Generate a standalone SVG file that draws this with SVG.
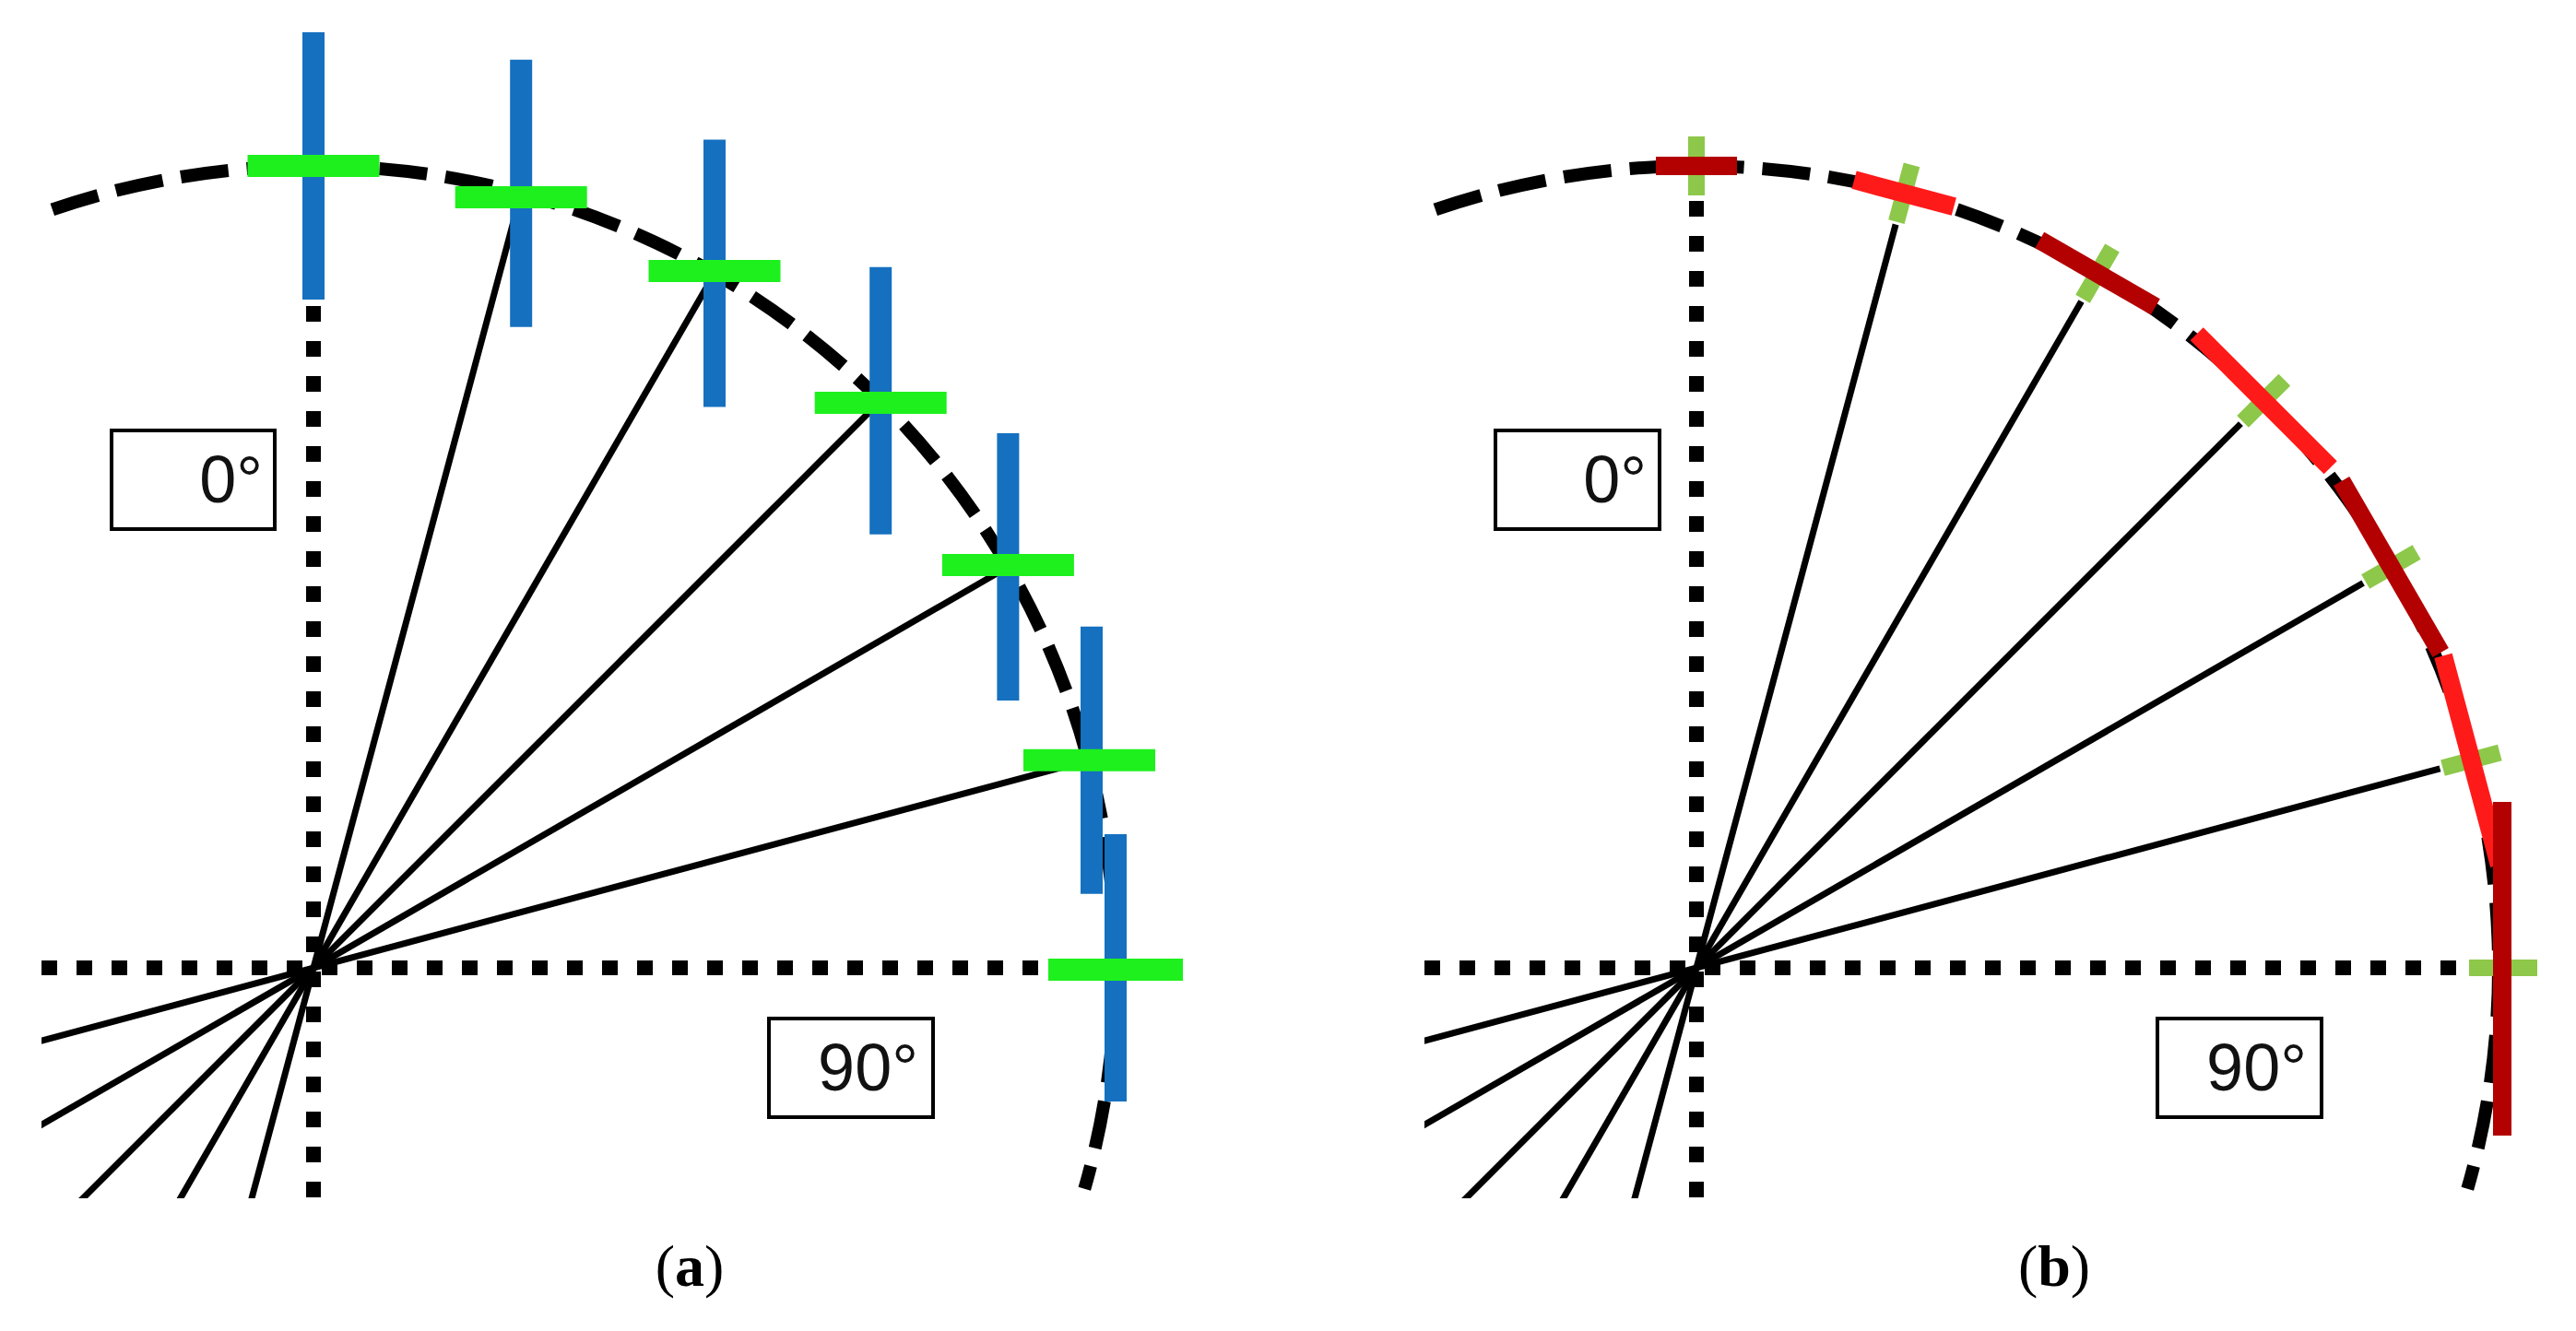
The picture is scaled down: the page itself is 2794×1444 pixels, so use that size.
<svg xmlns="http://www.w3.org/2000/svg" width="2794" height="1444" viewBox="0 0 2794 1444">
<style>
.arc{fill:none;stroke:#000;stroke-width:14;stroke-dasharray:52 20}
.dot{stroke:#000;stroke-width:16;stroke-dasharray:17 21;fill:none}
.spoke{stroke:#000;stroke-width:7;fill:none}
.blue{stroke:#1570c0;stroke-width:24}
.grn{stroke:#1ef01e;stroke-width:24}
.lg{stroke:#8dc84a;stroke-width:18}
.dr{stroke:#b30000;stroke-width:20}
.br{stroke:#ff1a1a;stroke-width:20}
.box{fill:#fff;stroke:#000;stroke-width:4}
.lbl{font-family:"Liberation Sans",Arial,sans-serif;font-size:72px;fill:#111;text-anchor:end}
.cap{font-family:"Liberation Serif","Times New Roman",serif;font-size:64px;fill:#000;text-anchor:middle}
</style>
<defs>
<clipPath id="ca"><rect x="45" y="0" width="1400" height="1300"/></clipPath>
<clipPath id="cb"><rect x="1545" y="0" width="1249" height="1300"/></clipPath>
</defs>
<g id="panel-a">
<path class="arc" d="M 56.8 227.4 A 870 870 0 0 1 1176.3 1289.8"/>
<g id="connectors-a" clip-path="url(#ca)">
<line class="spoke" x1="565.2" y1="209.7" x2="184.7" y2="1629.6"/>
<line class="spoke" x1="775" y1="296.6" x2="40" y2="1569.6"/>
<line class="spoke" x1="955.2" y1="434.8" x2="-84.3" y2="1474.3"/>
<line class="spoke" x1="1093.4" y1="615" x2="-179.6" y2="1350"/>
<line class="spoke" x1="1180.4" y1="824.8" x2="-239.5" y2="1205.3"/>
<line class="dot" x1="340" y1="180" x2="340" y2="1300"/>
<line class="dot" x1="45" y1="1050" x2="1210" y2="1050"/>
</g>
<g id="bars-a">
<line class="blue" x1="340" y1="35" x2="340" y2="325"/>
<line class="blue" x1="565.2" y1="64.7" x2="565.2" y2="354.7"/>
<line class="blue" x1="775" y1="151.6" x2="775" y2="441.6"/>
<line class="blue" x1="955.2" y1="289.8" x2="955.2" y2="579.8"/>
<line class="blue" x1="1093.4" y1="470" x2="1093.4" y2="760"/>
<line class="blue" x1="1184" y1="679.8" x2="1184" y2="969.8"/>
<line class="blue" x1="1210" y1="905" x2="1210" y2="1195"/>
<line class="grn" x1="268.5" y1="180" x2="411.5" y2="180"/>
<line class="grn" x1="493.7" y1="214" x2="636.7" y2="214"/>
<line class="grn" x1="703.5" y1="294" x2="846.5" y2="294"/>
<line class="grn" x1="883.7" y1="437" x2="1026.7" y2="437"/>
<line class="grn" x1="1021.9" y1="613" x2="1164.9" y2="613"/>
<line class="grn" x1="1110" y1="824.8" x2="1253" y2="824.8"/>
<line class="grn" x1="1137" y1="1052" x2="1283" y2="1052"/>
</g>
<g id="label-a0"><rect class="box" x="121" y="467" width="177" height="107"/><text class="lbl" x="285" y="545">0°</text></g>
<g id="label-a90"><rect class="box" x="834" y="1105" width="178" height="107"/><text class="lbl" x="996" y="1183">90°</text></g>
<text class="cap" x="748" y="1395">(<tspan font-weight="bold">a</tspan>)</text>
</g>
<g id="panel-b">
<path class="arc" d="M 1556.8 227.4 A 870 870 0 0 1 2676.3 1289.8"/>
<g id="connectors-b" clip-path="url(#cb)">
<line class="spoke" x1="2056.1" y1="243.5" x2="1684.7" y2="1629.6"/>
<line class="spoke" x1="2257.5" y1="326.9" x2="1540" y2="1569.6"/>
<line class="spoke" x1="2430.4" y1="459.6" x2="1415.7" y2="1474.3"/>
<line class="spoke" x1="2563.1" y1="632.5" x2="1320.4" y2="1350"/>
<line class="spoke" x1="2646.5" y1="833.9" x2="1260.5" y2="1205.3"/>
<line class="dot" x1="1840" y1="180" x2="1840" y2="1300"/>
<line class="dot" x1="1545" y1="1050" x2="2700" y2="1050"/>
</g>
<g id="ticks-b">
<line class="lg" x1="1840" y1="148" x2="1840" y2="212"/>
<line class="lg" x1="2056.9" y1="240.6" x2="2073.5" y2="178.8"/>
<line class="lg" x1="2259" y1="324.3" x2="2291" y2="268.9"/>
<line class="lg" x1="2432.6" y1="457.4" x2="2477.8" y2="412.2"/>
<line class="lg" x1="2565.7" y1="631" x2="2621.1" y2="599"/>
<line class="lg" x1="2649.5" y1="833.1" x2="2711.3" y2="816.5"/>
<line class="lg" x1="2678" y1="1050" x2="2752" y2="1050"/>
</g>
<g id="segments-b">
<line class="dr" x1="1796" y1="180" x2="1884" y2="180"/>
<line class="br" x1="2011.1" y1="195.2" x2="2119.3" y2="224.2"/>
<line class="dr" x1="2212.2" y1="260.4" x2="2337.8" y2="332.9"/>
<line class="br" x1="2382.7" y1="362.3" x2="2527.7" y2="507.3"/>
<line class="dr" x1="2539.6" y1="521.9" x2="2647.2" y2="708.1"/>
<line class="br" x1="2650" y1="711.3" x2="2710.8" y2="938.3"/>
<line class="dr" x1="2714" y1="870" x2="2714" y2="1232"/>
</g>
<g id="label-b0"><rect class="box" x="1622" y="467" width="178" height="107"/><text class="lbl" x="1786" y="545">0°</text></g>
<g id="label-b90"><rect class="box" x="2340" y="1105" width="178" height="107"/><text class="lbl" x="2502" y="1183">90°</text></g>
<text class="cap" x="2228" y="1395">(<tspan font-weight="bold">b</tspan>)</text>
</g>
</svg>
